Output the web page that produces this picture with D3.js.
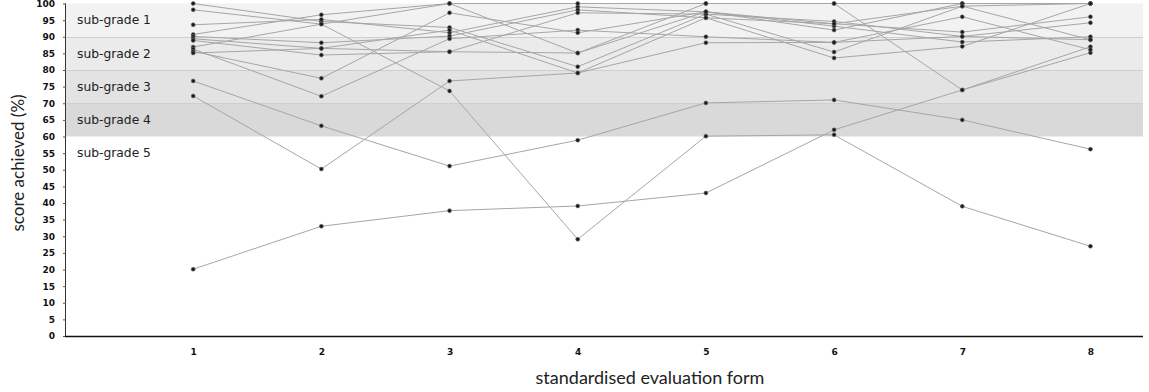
<!DOCTYPE html>
<html>
<head>
<meta charset="utf-8">
<script src="https://cdn.jsdelivr.net/npm/d3@7"></script>
<style>
  html, body { margin: 0; padding: 0; background: #fff; }
  svg { display: block; }
</style>
</head>
<body>
<svg id="chart" width="1149" height="392"></svg>
<script>
// ---------- data ----------
const forms = [1, 2, 3, 4, 5, 6, 7, 8];
const yTickValues = [0, 5, 10, 15, 20, 25, 30, 35, 40, 45, 50, 55, 60, 65, 70, 75, 80, 85, 90, 95, 100];
const bandLabels = ["sub-grade 1", "sub-grade 2", "sub-grade 3", "sub-grade 4", "sub-grade 5"];
const bandLow = [90, 80, 70, 60, 50];
const bandHigh = [100, 90, 80, 70, 60];
const bandFill = ["#f2f2f2", "#ebebeb", "#e3e3e3", "#d9d9d9", "none"];
const xTitle = "standardised evaluation form";
const yTitle = "score achieved (%)";

// one array per student (score at forms 1..8)
const studentA = [20.1, 33.0, 37.7, 39.1, 43.0, 62.0, 74.0, 87.0];
const studentB = [76.7, 63.2, 51.1, 58.9, 70.1, 71.0, 65.0, 56.2];
const studentC = [72.2, 50.2, 76.7, 79.1, 88.2, 88.3, 90.1, 89.1];
const studentD = [98.1, 93.8, 73.7, 29.1, 60.1, 60.5, 39.0, 27.0];
const studentE = [100, 94.6, 92.8, 81.0, 96.8, 85.4, 99.2, 100];
const studentF = [93.6, 95.2, 91.2, 99.0, 97.5, 93.9, 91.4, 96.0];
const studentG = [90.7, 96.6, 100, 100, 100, 100, 100, 100];
const studentH = [90.1, 88.2, 90.2, 98.1, 95.7, 83.6, 87.1, 100];
const studentI = [89.4, 86.5, 85.5, 85.1, 97.5, 93.2, 88.4, 90.0];
const studentJ = [88.9, 84.5, 85.5, 97.2, 96.8, 94.6, 90.1, 94.2];
const studentK = [86.9, 93.8, 100, 85.1, 100, 100, 74.0, 85.2];
const studentL = [86.3, 72.1, 89.4, 92.0, 90.0, 88.3, 96.0, 86.1];
const studentM = [85.6, 77.5, 97.2, 91.2, 97.5, 92.0, 100, 100];
const studentN = [85.1, 86.5, 92.0, 79.1, 95.7, 93.9, 99.2, 89.1];
const students = [studentA, studentB, studentC, studentD, studentE, studentF, studentG,
                  studentH, studentI, studentJ, studentK, studentL, studentM, studentN];

// ---------- layout ----------
const svg = d3.select("#chart");
const x = d3.scaleLinear().domain([0, 8.41]).range([65, 1143]);
const y = d3.scaleLinear().domain([0, 100]).range([336, 3.5]);
const axisX = 66;

// bands
const bands = bandLabels.map((l, i) => ({label: l, lo: bandLow[i], hi: bandHigh[i], fill: bandFill[i]}));
svg.append("g").selectAll("rect").data(bands.filter(b => b.fill !== "none")).join("rect")
  .attr("x", axisX).attr("width", x(8.41) - axisX)
  .attr("y", d => y(d.hi)).attr("height", d => y(d.lo) - y(d.hi))
  .attr("fill", d => d.fill);
svg.append("g").selectAll("line").data([90, 80, 70]).join("line")
  .attr("x1", axisX).attr("x2", x(8.41))
  .attr("y1", d => Math.round(y(d)) + 0.5).attr("y2", d => Math.round(y(d)) + 0.5)
  .attr("stroke", "#cfcfcf").attr("stroke-width", 1);
svg.append("g").selectAll("text").data(bands).join("text")
  .attr("x", 77).attr("y", d => y((d.lo + d.hi) / 2))
  .attr("dy", "0.35em")
  .attr("font-family", "'DejaVu Sans', sans-serif").attr("font-size", 12.3)
  .attr("fill", "#222")
  .text(d => d.label);

// lines
const line = d3.line().x((d, i) => x(forms[i])).y(d => y(d));
svg.append("g").selectAll("path").data(students).join("path")
  .attr("d", line).attr("fill", "none")
  .attr("stroke", "#a6a6a6").attr("stroke-width", 1);

// points
const pts = [];
students.forEach(s => s.forEach((v, i) => pts.push({f: forms[i], v})));
svg.append("g").selectAll("circle").data(pts).join("circle")
  .attr("cx", d => x(d.f)).attr("cy", d => y(d.v)).attr("r", 2)
  .attr("fill", "#1a1a1a").attr("stroke", "#777").attr("stroke-width", 0.6);

// y axis
const yAxis = d3.axisLeft(y).tickValues(yTickValues).tickSize(3).tickPadding(8);
const gy = svg.append("g").attr("transform", `translate(${axisX},0)`).call(yAxis);
gy.select(".domain").attr("stroke", "#333").attr("d", `M-0.5,${y(100)}V${y(0)}`);
gy.selectAll(".tick line").attr("stroke", "#555");
gy.selectAll(".tick text").attr("font-family", "'DejaVu Sans', sans-serif")
  .attr("font-weight", "bold").attr("font-size", 9).attr("fill", "#111");

// x axis
const xAxis = d3.axisBottom(x).tickValues(forms).tickSize(0).tickPadding(13).tickFormat(d3.format("d"));
const gx = svg.append("g").attr("transform", `translate(0,336)`).call(xAxis);
gx.select(".domain").attr("stroke", "#111").attr("stroke-width", 1.6)
  .attr("d", `M${axisX - 1},0.5H${x(8.41)}`);
gx.selectAll(".tick text").attr("font-family", "'DejaVu Sans', sans-serif")
  .attr("font-weight", "bold").attr("font-size", 9).attr("fill", "#111");

// titles
svg.append("text").attr("x", 650).attr("y", 384)
  .attr("text-anchor", "middle")
  .attr("font-family", "Lato, 'Open Sans', sans-serif").attr("font-size", 18)
  .attr("fill", "#222").text(xTitle);
svg.append("text").attr("transform", "translate(24,163) rotate(-90)")
  .attr("text-anchor", "middle")
  .attr("font-family", "Lato, 'Open Sans', sans-serif").attr("font-size", 17)
  .attr("fill", "#222").text(yTitle);
</script>
</body>
</html>
